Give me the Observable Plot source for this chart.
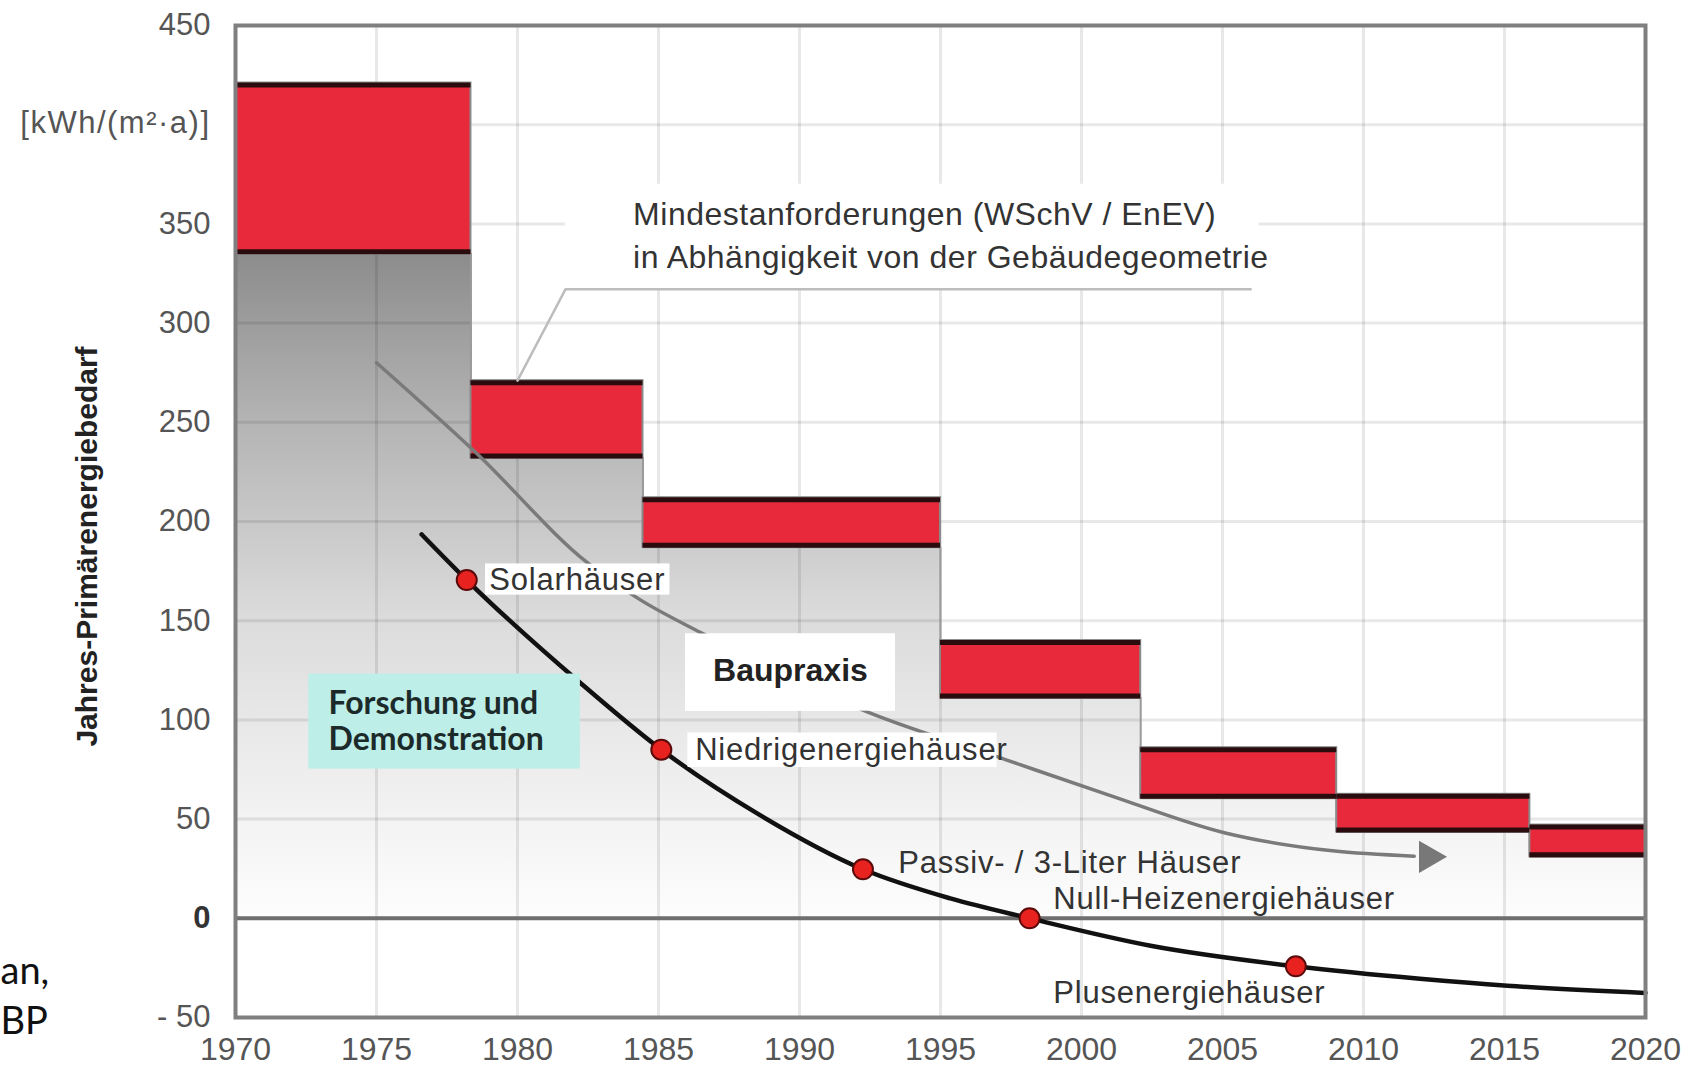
<!DOCTYPE html>
<html><head><meta charset="utf-8">
<script src="https://cdn.jsdelivr.net/npm/d3@7"></script>
<script src="https://cdn.jsdelivr.net/npm/@observablehq/plot@0.6"></script>
<style>html,body{margin:0;padding:0;background:#fff}</style>
</head><body><div id="chart"></div>
<script>
// ---- ticks and tick labels ----
const xTicks = [1970, 1975, 1980, 1985, 1990, 1995, 2000, 2005, 2010, 2015, 2020];
const yGrid = [-50, 0, 50, 100, 150, 200, 250, 300, 350, 400, 450];
const yTickLabels = [-50, 0, 50, 100, 150, 200, 250, 300, 350, 450];
const yUnit = "[kWh/(m²·a)]";
const yTitle = "Jahres-Primärenergiebedarf";

// ---- Mindestanforderungen (WSchV / EnEV): steps ----
const stepStart = [1970, 1978.35, 1984.45, 1995, 2002.1, 2009.05, 2015.9];
const stepEnd   = [1978.35, 1984.45, 1995, 2002.1, 2009.05, 2015.9, 2020];
const stepHigh  = [421, 271, 212, 140, 86, 62.5, 47];
const stepLow   = [335, 232, 187, 111, 60.5, 43.5, 31];

// ---- Baupraxis trend (gray arrow) ----
const bauYears  = [1975, 1978.5, 1982.5, 1984.3, 1986.5, 1992.4, 1997.3, 2001, 2005.1, 2008.9, 2011.8];
const bauValues = [280, 235, 179, 161, 144, 104, 80, 62, 43, 34, 31.3];
const arrowYear = [2012.3];
const arrowValue = [31];

// ---- Forschung und Demonstration curve ----
const resYears  = [1976.6, 1978.2, 1982.2, 1985.1, 1988.6, 1992.25, 1995.35, 1998.16, 2002.45, 2007.6, 2012, 2015.1, 2020];
const resValues = [193.5, 170.5, 119, 85, 52, 24.7, 10, 0, -13.8, -24.2, -30.5, -34, -37.6];

// ---- milestones ----
const milestoneNames  = ["Solarhäuser", "Niedrigenergiehäuser", "Passiv- / 3-Liter Häuser", "Null-Heizenergiehäuser", "Plusenergiehäuser"];
const milestoneYears  = [1978.2, 1985.1, 1992.25, 1998.16, 2007.6];
const milestoneValues = [170.5, 85, 24.7, 0, -24.2];
const labelYears  = [1979.0, 1986.3, 1993.5, 1999.0, 1999.0];
const labelValues = [170.5, 85, 28, 9.8, -37.6];

// ---- annotation boxes ----
const whiteBoxX1 = [1978.87, 1986.05, 1985.96, 1981.7];
const whiteBoxX2 = [1985.4, 1997.0, 1993.4, 2006.3];
const whiteBoxY1 = [163, 76, 104.4, 317];
const whiteBoxY2 = [178.5, 93.3, 143.3, 370];
const leaderYears  = [1980.0, 1981.7, 2006.0];
const leaderValues = [271, 317, 317];

const bars = stepStart.map((s, i) => ({x1: s, x2: stepEnd[i], high: stepHigh[i], low: stepLow[i]}));
const shade = stepStart.map((s, i) => ({x: s, y: stepLow[i]})).concat([{x: 2020, y: stepLow[stepLow.length - 1]}]);
const bau = bauYears.map((x, i) => ({x, y: bauValues[i]}));
const res = resYears.map((x, i) => ({x, y: resValues[i]}));
const miles = milestoneNames.map((n, i) => ({name: n, x: milestoneYears[i], y: milestoneValues[i], lx: labelYears[i], ly: labelValues[i]}));
const whiteBoxes = whiteBoxX1.map((x1, i) => ({x1, x2: whiteBoxX2[i], y1: whiteBoxY1[i], y2: whiteBoxY2[i]}));
const leader = leaderYears.map((x, i) => ({x, y: leaderValues[i]}));

const F = "'Liberation Sans', Arial, sans-serif";

const plot = Plot.plot({
  width: 1688, height: 1071,
  marginLeft: 235, marginRight: 43, marginTop: 25, marginBottom: 54,
  style: {fontFamily: F, fontSize: "31px", color: "#555", background: "#fff"},
  x: {domain: [1970, 2020]},
  y: {domain: [-50, 450]},
  marks: [
    Plot.areaY(shade, {x: "x", y1: 0, y2: "y", curve: "step-after", fill: "url(#shade)"}),
    Plot.gridX({ticks: xTicks, stroke: "#000", strokeOpacity: 0.09, strokeWidth: 3}),
    Plot.gridY({ticks: yGrid, stroke: "#000", strokeOpacity: 0.09, strokeWidth: 3}),
    Plot.line(shade, {x: "x", y: "y", curve: "step-after", stroke: "#9a9a9a", strokeWidth: 2}),
    Plot.ruleY([0], {stroke: "#6e6e6e", strokeWidth: 4}),
    Plot.rect(bars, {x1: "x1", x2: "x2", y1: "low", y2: "high", fill: "#e8293b", stroke: "#8a8a8a", strokeWidth: 2}),
    Plot.ruleY(bars, {x1: "x1", x2: "x2", y: "high", stroke: "#2a0c0e", strokeWidth: 5, dy: 2}),
    Plot.ruleY(bars, {x1: "x1", x2: "x2", y: "low", stroke: "#2a0c0e", strokeWidth: 5, dy: -2}),
    Plot.rect(whiteBoxes, {x1: "x1", x2: "x2", y1: "y1", y2: "y2", fill: "#fff"}),
    Plot.line(leader, {x: "x", y: "y", stroke: "#bdbdbd", strokeWidth: 2.5}),
    Plot.line(bau, {x: "x", y: "y", curve: "monotone-x", stroke: "#7a7a7a", strokeWidth: 3.5}),
    Plot.dot(arrowYear.map((x, i) => ({x, y: arrowValue[i]})), {x: "x", y: "y", symbol: "triangle", r: 12, rotate: 90, fill: "#787878", stroke: "none"}),
    Plot.line(res, {x: "x", y: "y", curve: "monotone-x", stroke: "#111", strokeWidth: 4.5}),
    Plot.rect(whiteBoxes.slice(0, 3), {x1: "x1", x2: "x2", y1: "y1", y2: "y2", fill: "#fff"}),
    Plot.rect([{x1: 1972.6, x2: 1982.23, y1: 75.2, y2: 123.1}], {x1: "x1", x2: "x2", y1: "y1", y2: "y2", fill: "#bdeee8"}),
    Plot.frame({stroke: "#7f7f7f", strokeWidth: 4}),
    Plot.dot(miles, {x: "x", y: "y", r: 10, fill: "#e8221f", stroke: "#5a0a0a", strokeWidth: 2}),
    Plot.text(miles, {x: "lx", y: "ly", text: "name", textAnchor: "start", fontSize: 31, fontFamily: F, fill: "#333", ariaDescription: "sp08"}),
    Plot.text(["Mindestanforderungen (WSchV / EnEV)\nin Abhängigkeit von der Gebäudegeometrie"], {x: 1984.1, y: 328, textAnchor: "start", lineAnchor: "bottom", lineHeight: 1.34, fontSize: 32, fontFamily: F, fill: "#333", ariaDescription: "sp05"}),
    Plot.text(["Baupraxis"], {x: 1989.68, y: 125, textAnchor: "middle", fontSize: 32, fontWeight: "bold", fontFamily: F, fill: "#222"}),
    Plot.text(["Forschung und\nDemonstration"], {x: 1973.3, y: 84.8, textAnchor: "start", lineAnchor: "bottom", lineHeight: 1.13, fontSize: 32, fontWeight: "bold", fontFamily: "Lato, 'Open Sans', sans-serif", fill: "#1c2a2a"}),
    Plot.text([yUnit], {x: 1970, y: 401, dx: -25, textAnchor: "end", fontSize: 31, fontFamily: F, fill: "#555", ariaDescription: "sp15"}),
    Plot.text([yTitle], {x: 1970, y: 187.4, dx: -148, rotate: -90, textAnchor: "middle", fontSize: 30, fontWeight: "bold", fontFamily: F, fill: "#222"}),
    Plot.text(["an,"], {x: 1970, y: -32.9, dx: -235, textAnchor: "start", lineAnchor: "bottom", fontSize: 38, fontFamily: "Lato, sans-serif", fill: "#111"}),
    Plot.text(["BP"], {x: 1970, y: -58.1, dx: -235, textAnchor: "start", lineAnchor: "bottom", fontSize: 38, fontFamily: "Lato, sans-serif", fill: "#111"}),
    Plot.axisX({ticks: xTicks, tickSize: 0, tickPadding: 20, tickFormat: d => String(d), fontSize: 32, fill: "#555"}),
    Plot.axisY({ticks: yTickLabels, tickSize: 0, tickPadding: 25, tickFormat: d => d < 0 ? "- " + (-d) : String(d), fontSize: 31, fill: "#555"})
  ]
});

const ys = plot.scale("y");
const svg = d3.select(plot);
const defs = svg.insert("defs", ":first-child");
const y1 = ys.apply(stepLow[0]), y2 = ys.apply(0);
const grad = defs.append("linearGradient").attr("id", "shade")
  .attr("gradientUnits", "userSpaceOnUse").attr("x1", 0).attr("x2", 0).attr("y1", y1).attr("y2", y2);
[[335, "#8c8c8c"], [250, "#b4b4b4"], [150, "#dcdcdc"], [50, "#f3f3f3"], [0, "#fdfdfd"]].forEach(([v, c]) => {
  grad.append("stop").attr("offset", (ys.apply(v) - y1) / (y2 - y1)).attr("stop-color", c);
});
svg.selectAll("g[aria-description='sp08']").attr("letter-spacing", "0.8px");
svg.selectAll("g[aria-description='sp05']").attr("letter-spacing", "0.5px");
svg.selectAll("g[aria-description='sp15']").attr("letter-spacing", "1.5px");
svg.selectAll("text").filter(function () { return this.textContent === "0"; })
  .attr("font-weight", "bold").attr("fill", "#333");
document.getElementById("chart").appendChild(plot);
</script>
</body></html>
